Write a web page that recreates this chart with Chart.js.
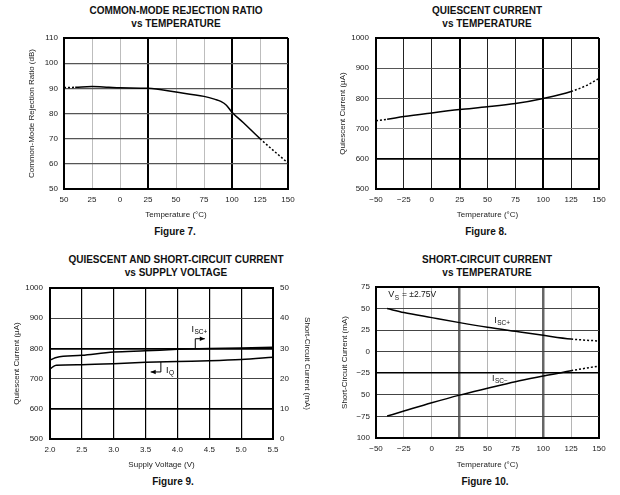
<!DOCTYPE html>
<html>
<head>
<meta charset="utf-8">
<script src="https://cdn.jsdelivr.net/npm/chart.js@4.4.1/dist/chart.umd.min.js"></script>
<style>
  body { margin:0; background:#fff; width:620px; height:495px; position:relative; overflow:hidden; font-family:"Liberation Sans", Arial, sans-serif; }
  canvas { position:absolute; }
  .ttl { position:absolute; width:300px; text-align:center; font-weight:bold; font-size:10px; line-height:13px; color:#111; }
</style>
</head>
<body>
<div class="ttl" style="left:26px;top:4px">COMMON-MODE REJECTION RATIO<br>vs TEMPERATURE</div>
<div class="ttl" style="left:337px;top:4px">QUIESCENT CURRENT<br>vs TEMPERATURE</div>
<div class="ttl" style="left:26px;top:253px">QUIESCENT AND SHORT-CIRCUIT CURRENT<br>vs SUPPLY VOLTAGE</div>
<div class="ttl" style="left:337px;top:253px">SHORT-CIRCUIT CURRENT<br>vs TEMPERATURE</div>
<div class="ttl" style="left:25px;top:225px">Figure 7.</div>
<div class="ttl" style="left:336px;top:225px">Figure 8.</div>
<div class="ttl" style="left:23px;top:475px">Figure 9.</div>
<div class="ttl" style="left:335px;top:475px">Figure 10.</div>

<canvas id="fig7" width="310" height="245" style="left:0;top:0"></canvas>
<canvas id="fig8" width="310" height="245" style="left:310px;top:0"></canvas>
<canvas id="fig9" width="320" height="250" style="left:0;top:245px"></canvas>
<canvas id="fig10" width="310" height="250" style="left:310px;top:245px"></canvas>

<script>
// Figure 7: CMRR vs temperature
const temps7 = [-50, -40, -25, -10, 0, 25, 50, 75, 85, 90, 95, 100, 110, 125, 150];
const cmrr7 = [90.3, 90.4, 90.7, 90.4, 90.2, 90, 88.5, 86.8, 85.6, 84.8, 83.3, 80.5, 76.4, 70, 60.3];
const xLabels7 = ['50', '25', '0', '25', '50', '75', '100', '125', '150'];

// Figure 8: quiescent current vs temperature
const temps8 = [-50, -40, -25, 0, 25, 50, 75, 100, 125, 140, 150];
const iq8 = [726, 731, 740, 752, 763, 772, 783, 800, 823, 845, 866];
const xLabels8 = ['\u221250', '\u221225', '0', '25', '50', '75', '100', '125', '150'];

// Figure 9: IQ and ISC+ vs supply voltage
const volts9 = [2.0, 2.05, 2.1, 2.5, 3.0, 3.5, 4.0, 4.5, 5.0, 5.5];
const iq9 = [731, 740, 744, 746, 749, 754, 757, 759, 763, 771];
const isc9 = [26.1, 26.6, 27.0, 27.7, 28.8, 29.2, 29.7, 30.0, 30.1, 30.4];
const xLabels9 = ['2.0', '2.5', '3.0', '3.5', '4.0', '4.5', '5.0', '5.5'];

// Figure 10: short-circuit current vs temperature
const temps10 = [-40, -25, 0, 25, 50, 75, 100, 125, 150];
const iscPos10 = [50, 45.4, 39.5, 33.7, 28.3, 23.6, 19, 14.7, 12.4];
const iscNeg10 = [-74.6, -68.8, -59.2, -50.3, -42.4, -34.7, -28.2, -22, -16.6];
const yLabels10 = ['100', '\u221275', '50', '\u221225', '0', '25', '50', '75'];

Chart.defaults.font.family = "'Liberation Sans', Arial, sans-serif";
Chart.defaults.font.size = 8;
Chart.defaults.color = '#222';
Chart.defaults.animation = false;
Chart.defaults.plugins.legend.display = false;
Chart.defaults.plugins.tooltip.enabled = false;

function fixW(w) { return s => { s.width = w; }; }
function fixH(h) { return s => { s.height = h; }; }
const plain = v => String(v);

function gridStyle(map, col, w) {
  return {
    color: c => (map[c.tick.value] || [col, w])[0],
    lineWidth: c => (map[c.tick.value] || [col, w])[1],
    drawTicks: false
  };
}

function curve(xs, ys, dashed, axis) {
  return {
    data: xs.map((x, i) => ({ x: x, y: ys[i] })),
    borderColor: '#000',
    borderWidth: 1.5,
    pointRadius: 0,
    cubicInterpolationMode: 'monotone',
    yAxisID: axis || 'y',
    segment: { borderDash: c => dashed(c.p0.parsed.x, c.p1.parsed.x) ? [2, 2] : undefined }
  };
}

function subText(ctx, x, y, main, sub, rest) {
  ctx.font = "9px 'Liberation Sans', Arial, sans-serif";
  ctx.textBaseline = 'middle';
  ctx.textAlign = 'left';
  ctx.fillText(main, x, y);
  let w = ctx.measureText(main).width;
  ctx.font = "6.5px 'Liberation Sans', Arial, sans-serif";
  ctx.fillText(sub, x + w + 0.5, y + 3);
  if (rest) {
    let w2 = ctx.measureText(sub).width;
    ctx.font = "8.5px 'Liberation Sans', Arial, sans-serif";
    ctx.fillText(rest, x + w + w2 + 1, y);
  }
}

function arrow(ctx, pts, dir) {
  ctx.beginPath();
  ctx.moveTo(pts[0][0], pts[0][1]);
  for (let i = 1; i < pts.length; i++) ctx.lineTo(pts[i][0], pts[i][1]);
  ctx.stroke();
  const [ex, ey] = pts[pts.length - 1];
  ctx.beginPath();
  ctx.moveTo(ex, ey);
  ctx.lineTo(ex - dir * 5, ey - 2.2);
  ctx.lineTo(ex - dir * 5, ey + 2.2);
  ctx.closePath();
  ctx.fill();
}

const edge = ['#000', 2];
const tempDash = (a, b) => b <= -40 || a >= 125;

// Figure 7
new Chart(document.getElementById('fig7'), {
  type: 'line',
  data: { datasets: [curve(temps7, cmrr7, tempDash)] },
  options: {
    responsive: false,
    layout: { padding: { left: 27, top: 38, right: 22, bottom: 25 } },
    scales: {
      x: {
        type: 'linear', min: -50, max: 150,
        ticks: { stepSize: 25, padding: 6, maxRotation: 0, autoSkip: false, callback: (v, i) => xLabels7[i] },
        title: { display: true, text: 'Temperature (\u00b0C)', padding: 0, color: '#222' },
        grid: gridStyle({ '-50': edge, '150': edge, '25': ['#000', 2], '100': ['#000', 2] }, '#bdbdbd', 1),
        border: { color: '#000', width: 2 },
        afterFit: fixH(31)
      },
      y: {
        min: 50, max: 110,
        ticks: { stepSize: 10, padding: 6, callback: plain },
        title: { display: true, text: 'Common-Mode Rejection Ratio (dB)', padding: 0, color: '#222' },
        grid: gridStyle({ '50': edge, '110': edge }, '#555', 1.3),
        border: { color: '#000', width: 2 },
        afterFit: fixW(37)
      }
    }
  }
});

// Figure 8
new Chart(document.getElementById('fig8'), {
  type: 'line',
  data: { datasets: [curve(temps8, iq8, tempDash)] },
  options: {
    responsive: false,
    layout: { padding: { left: 28, top: 38, right: 21, bottom: 25 } },
    scales: {
      x: {
        type: 'linear', min: -50, max: 150,
        ticks: { stepSize: 25, padding: 6, maxRotation: 0, autoSkip: false, callback: (v, i) => xLabels8[i] },
        title: { display: true, text: 'Temperature (\u00b0C)', padding: 0, color: '#222' },
        grid: gridStyle({ '-50': edge, '150': edge, '25': ['#000', 2], '100': ['#000', 2] }, '#222', 1),
        border: { color: '#000', width: 2 },
        afterFit: fixH(31)
      },
      y: {
        min: 500, max: 1000,
        ticks: { stepSize: 100, padding: 7, callback: plain },
        title: { display: true, text: 'Quiescent Current (\u00b5A)', padding: 0, color: '#222' },
        grid: gridStyle({ '500': edge, '1000': edge, '600': ['#000', 1.8], '700': ['#8a8a8a', 1] }, '#555', 1),
        border: { color: '#000', width: 2 },
        afterFit: fixW(38)
      }
    }
  }
});

// Figure 9
const notes9 = {
  id: 'notes9',
  afterDatasetsDraw(chart) {
    const { ctx, scales: { x, y } } = chart;
    ctx.save();
    ctx.strokeStyle = '#000';
    ctx.fillStyle = '#000';
    ctx.lineWidth = 1;
    const xa = x.getPixelForValue(4.28), ya0 = y.getPixelForValue(800), ya1 = y.getPixelForValue(832);
    arrow(ctx, [[xa, ya0], [xa, ya1], [x.getPixelForValue(4.43), ya1]], 1);
    const xb = x.getPixelForValue(3.74), yb0 = y.getPixelForValue(755), yb1 = y.getPixelForValue(722);
    arrow(ctx, [[xb, yb0], [xb, yb1], [x.getPixelForValue(3.58), yb1]], -1);
    subText(ctx, x.getPixelForValue(4.22), y.getPixelForValue(864), 'I', 'SC+');
    subText(ctx, x.getPixelForValue(3.82), y.getPixelForValue(728), 'I', 'Q');
    ctx.restore();
  }
};

new Chart(document.getElementById('fig9'), {
  type: 'line',
  data: { datasets: [curve(volts9, iq9, () => false), curve(volts9, isc9, () => false, 'y1')] },
  options: {
    responsive: false,
    layout: { padding: { left: 12, top: 43, right: 8, bottom: 25 } },
    scales: {
      x: {
        type: 'linear', min: 2, max: 5.5,
        ticks: { stepSize: 0.5, padding: 6, maxRotation: 0, autoSkip: false, callback: (v, i) => xLabels9[i] },
        title: { display: true, text: 'Supply Voltage (V)', padding: 0, color: '#222' },
        grid: gridStyle({ '2': edge, '5.5': edge }, '#000', 1.2),
        border: { color: '#000', width: 2 },
        afterFit: fixH(31)
      },
      y: {
        min: 500, max: 1000,
        ticks: { stepSize: 100, padding: 7, callback: plain },
        title: { display: true, text: 'Quiescent Current (\u00b5A)', padding: 0, color: '#222' },
        grid: gridStyle({ '500': edge, '1000': edge, '800': ['#000', 1.8], '600': ['#000', 1.8] }, '#444', 1),
        border: { color: '#000', width: 2 },
        afterFit: fixW(38)
      },
      y1: {
        position: 'right', min: 0, max: 50,
        ticks: { stepSize: 10, padding: 7, callback: plain },
        title: { display: true, text: 'Short-Circuit Current (mA)', padding: 0, color: '#222' },
        grid: { drawOnChartArea: false, drawTicks: false },
        border: { color: '#000', width: 2 },
        afterFit: fixW(39)
      }
    }
  },
  plugins: [notes9]
});

// Figure 10
const notes10 = {
  id: 'notes10',
  afterDatasetsDraw(chart) {
    const { ctx, scales: { x, y } } = chart;
    ctx.save();
    ctx.fillStyle = '#111';
    subText(ctx, x.getPixelForValue(-39), y.getPixelForValue(66), 'V', 'S', ' = \u00b12.75V');
    subText(ctx, x.getPixelForValue(56), y.getPixelForValue(36), 'I', 'SC+');
    subText(ctx, x.getPixelForValue(54), y.getPixelForValue(-30.5), 'I', 'SC\u2212');
    ctx.restore();
  }
};

new Chart(document.getElementById('fig10'), {
  type: 'line',
  data: { datasets: [curve(temps10, iscPos10, (a) => a >= 125), curve(temps10, iscNeg10, (a) => a >= 125)] },
  options: {
    responsive: false,
    layout: { padding: { left: 30, top: 42, right: 21, bottom: 25 } },
    scales: {
      x: {
        type: 'linear', min: -50, max: 150,
        ticks: { stepSize: 25, padding: 6, maxRotation: 0, autoSkip: false, callback: (v, i) => xLabels8[i] },
        title: { display: true, text: 'Temperature (\u00b0C)', padding: 0, color: '#222' },
        grid: gridStyle({ '-50': edge, '150': edge, '25': ['#666', 2.5], '100': ['#666', 2.5] }, '#b5b5b5', 1),
        border: { color: '#000', width: 2 },
        afterFit: fixH(32)
      },
      y: {
        min: -100, max: 75,
        ticks: { stepSize: 25, padding: 6, callback: (v, i) => yLabels10[i] },
        title: { display: true, text: 'Short-Circuit Current (mA)', padding: 0, color: '#222' },
        grid: gridStyle({ '-100': edge, '75': edge, '-25': ['#000', 1.6] }, '#444', 1),
        border: { color: '#000', width: 2 },
        afterFit: fixW(36)
      }
    }
  },
  plugins: [notes10]
});
</script>
</body>
</html>
